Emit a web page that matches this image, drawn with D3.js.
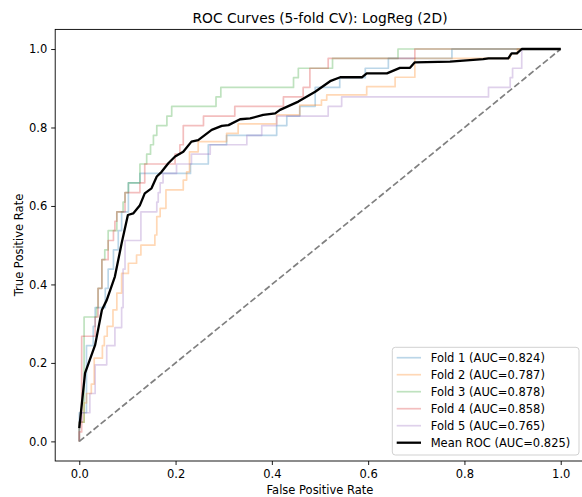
<!DOCTYPE html>
<html><head><meta charset="utf-8">
<script src="https://cdn.jsdelivr.net/npm/d3@7"></script>
<style>body{margin:0;background:#fff}svg{display:block;font-family:"DejaVu Sans",sans-serif}</style>
</head><body><svg id="c" width="582" height="497"></svg>
<script>
const chartTitle = "ROC Curves (5-fold CV): LogReg (2D)";
const xLabel = "False Positive Rate";
const yLabel = "True Positive Rate";
const tickValues = [0, 0.2, 0.4, 0.6, 0.8, 1.0];
const foldNames = ["Fold 1 (AUC=0.824)", "Fold 2 (AUC=0.787)", "Fold 3 (AUC=0.878)", "Fold 4 (AUC=0.858)", "Fold 5 (AUC=0.765)"];
const meanName = "Mean ROC (AUC=0.825)";
const foldColors = ["#1f77b4", "#ff7f0e", "#2ca02c", "#d62728", "#9467bd"];

// [fpr, tpr] points
const fold1 = [[0,0],[0,0.073],[0.015,0.073],[0.015,0.244],[0.029,0.244],[0.029,0.293],[0.033,0.293],[0.033,0.341],[0.054,0.341],[0.054,0.39],[0.06,0.39],[0.06,0.439],[0.071,0.439],[0.071,0.488],[0.081,0.488],[0.081,0.537],[0.088,0.537],[0.088,0.585],[0.102,0.585],[0.102,0.659],[0.126,0.659],[0.126,0.683],[0.231,0.683],[0.231,0.707],[0.268,0.707],[0.268,0.756],[0.306,0.756],[0.306,0.78],[0.41,0.78],[0.41,0.805],[0.431,0.805],[0.431,0.829],[0.458,0.829],[0.458,0.854],[0.49,0.854],[0.49,0.902],[0.541,0.902],[0.541,0.927],[0.594,0.927],[0.594,0.951],[0.642,0.951],[0.642,0.976],[0.774,0.976],[0.774,1],[1,1]];
const fold2 = [[0,0],[0,0.049],[0.01,0.049],[0.01,0.098],[0.015,0.098],[0.015,0.122],[0.025,0.122],[0.025,0.146],[0.031,0.146],[0.031,0.212],[0.048,0.212],[0.048,0.244],[0.052,0.244],[0.052,0.268],[0.058,0.268],[0.058,0.293],[0.07,0.293],[0.07,0.335],[0.078,0.335],[0.078,0.378],[0.088,0.378],[0.088,0.428],[0.102,0.428],[0.102,0.454],[0.119,0.454],[0.119,0.475],[0.128,0.475],[0.128,0.5],[0.157,0.5],[0.157,0.526],[0.161,0.526],[0.161,0.573],[0.168,0.573],[0.168,0.594],[0.18,0.594],[0.18,0.641],[0.216,0.641],[0.216,0.666],[0.223,0.666],[0.223,0.687],[0.229,0.687],[0.229,0.738],[0.247,0.738],[0.247,0.764],[0.306,0.764],[0.306,0.785],[0.33,0.785],[0.33,0.809],[0.41,0.809],[0.41,0.832],[0.458,0.832],[0.458,0.857],[0.503,0.857],[0.503,0.87],[0.514,0.87],[0.514,0.883],[0.597,0.883],[0.597,0.904],[0.656,0.904],[0.656,0.928],[0.697,0.928],[0.697,0.976],[0.895,0.976],[0.895,0.988],[0.91,0.988],[0.91,1],[1,1]];
const fold3 = [[0,0],[0,0.049],[0.01,0.049],[0.01,0.317],[0.036,0.317],[0.036,0.341],[0.039,0.341],[0.039,0.39],[0.047,0.39],[0.047,0.463],[0.053,0.463],[0.053,0.488],[0.06,0.488],[0.06,0.537],[0.078,0.537],[0.078,0.585],[0.091,0.585],[0.091,0.61],[0.095,0.61],[0.095,0.634],[0.102,0.634],[0.102,0.659],[0.126,0.659],[0.126,0.707],[0.14,0.707],[0.14,0.732],[0.148,0.732],[0.148,0.756],[0.154,0.756],[0.154,0.78],[0.161,0.78],[0.161,0.805],[0.182,0.805],[0.182,0.829],[0.192,0.829],[0.192,0.854],[0.284,0.854],[0.284,0.878],[0.294,0.878],[0.294,0.902],[0.445,0.902],[0.445,0.927],[0.455,0.927],[0.455,0.951],[0.526,0.951],[0.526,0.976],[0.662,0.976],[0.662,1],[1,1]];
const fold4 = [[0,0],[0,0.024],[0.005,0.024],[0.005,0.268],[0.033,0.268],[0.033,0.317],[0.039,0.317],[0.039,0.39],[0.047,0.39],[0.047,0.463],[0.06,0.463],[0.06,0.512],[0.071,0.512],[0.071,0.537],[0.074,0.537],[0.074,0.561],[0.078,0.561],[0.078,0.585],[0.095,0.585],[0.095,0.634],[0.126,0.634],[0.126,0.659],[0.136,0.659],[0.136,0.707],[0.199,0.707],[0.199,0.732],[0.209,0.732],[0.209,0.756],[0.216,0.756],[0.216,0.805],[0.258,0.805],[0.258,0.829],[0.323,0.829],[0.323,0.854],[0.424,0.854],[0.424,0.878],[0.465,0.878],[0.465,0.902],[0.479,0.902],[0.479,0.951],[0.517,0.951],[0.517,0.976],[0.697,0.976],[0.697,1],[1,1]];
const fold5 = [[0,0],[0,0.049],[0.005,0.049],[0.005,0.073],[0.022,0.073],[0.022,0.122],[0.033,0.122],[0.033,0.195],[0.057,0.195],[0.057,0.244],[0.074,0.244],[0.074,0.29],[0.088,0.29],[0.088,0.341],[0.091,0.341],[0.091,0.439],[0.095,0.439],[0.095,0.512],[0.128,0.512],[0.128,0.585],[0.161,0.585],[0.161,0.61],[0.164,0.61],[0.164,0.634],[0.168,0.634],[0.168,0.659],[0.174,0.659],[0.174,0.683],[0.202,0.683],[0.202,0.707],[0.233,0.707],[0.233,0.732],[0.272,0.732],[0.272,0.756],[0.348,0.756],[0.348,0.78],[0.379,0.78],[0.379,0.805],[0.41,0.805],[0.41,0.829],[0.517,0.829],[0.517,0.854],[0.545,0.854],[0.545,0.878],[0.85,0.878],[0.85,0.902],[0.895,0.902],[0.895,0.927],[0.9,0.927],[0.9,0.951],[0.919,0.951],[0.919,1],[1,1]];
const meanRoc = [[0,0.034],[0.012,0.174],[0.033,0.246],[0.047,0.335],[0.057,0.36],[0.074,0.42],[0.088,0.505],[0.101,0.577],[0.112,0.581],[0.126,0.602],[0.136,0.632],[0.15,0.645],[0.161,0.675],[0.171,0.687],[0.185,0.709],[0.199,0.726],[0.216,0.738],[0.233,0.764],[0.247,0.768],[0.275,0.794],[0.296,0.804],[0.31,0.806],[0.334,0.821],[0.355,0.823],[0.382,0.832],[0.407,0.836],[0.417,0.845],[0.455,0.866],[0.49,0.891],[0.521,0.918],[0.542,0.928],[0.587,0.928],[0.597,0.938],[0.639,0.938],[0.666,0.952],[0.687,0.952],[0.697,0.966],[0.77,0.968],[0.839,0.974],[0.85,0.976],[0.891,0.976],[0.898,0.989],[0.909,0.989],[0.919,1],[1,1]];
const chanceLine = [[0,0],[1,1]];

const folds = [fold1, fold2, fold3, fold4, fold5];

const svg = d3.select("#c");
const x = d3.scaleLinear().domain([-0.05, 1.05]).range([55.2, 584.8]);
const y = d3.scaleLinear().domain([-0.05, 1.05]).range([461, 29.4]);
const line = d3.line().x(d => x(d[0])).y(d => y(d[1]));

const plot = svg.append("g");
folds.forEach((f, i) => {
  plot.append("path").attr("d", line(f)).attr("fill", "none")
    .attr("stroke", foldColors[i]).attr("stroke-opacity", 0.3).attr("stroke-width", 1.7)
    .attr("stroke-linejoin", "round");
});
plot.append("path").attr("d", line(chanceLine)).attr("fill", "none")
  .attr("stroke", "#808080").attr("stroke-width", 1.7).attr("stroke-dasharray", "6.4,2.8");
plot.append("path").attr("d", line(meanRoc)).attr("fill", "none")
  .attr("stroke", "#000").attr("stroke-width", 2.3).attr("stroke-linejoin", "round");

// frame
svg.append("rect").attr("x", 55.2).attr("y", 29.4).attr("width", 529.6).attr("height", 431.6)
  .attr("fill", "none").attr("stroke", "#000").attr("stroke-width", 0.9);

const fmt = d3.format(".1f");
const xa = svg.append("g").attr("transform", "translate(0,461)")
  .call(d3.axisBottom(x).tickValues(tickValues).tickFormat(fmt).tickSize(4).tickPadding(5));
const ya = svg.append("g").attr("transform", "translate(55.2,0)")
  .call(d3.axisLeft(y).tickValues(tickValues).tickFormat(fmt).tickSize(4).tickPadding(4));
[xa, ya].forEach(a => {
  a.select(".domain").remove();
  a.selectAll("text").attr("font-family", "DejaVu Sans").attr("font-size", "11.5px").attr("fill", "#000");
  a.selectAll("line").attr("stroke", "#000").attr("stroke-width", 0.9);
});

svg.append("text").attr("x", 320).attr("y", 22.5).attr("text-anchor", "middle")
  .attr("font-size", "13.8px").attr("fill", "#000").text(chartTitle);
svg.append("text").attr("x", 320).attr("y", 494).attr("text-anchor", "middle")
  .attr("font-size", "11.5px").attr("fill", "#000").text(xLabel);
svg.append("text").attr("transform", "translate(22.5,245) rotate(-90)").attr("text-anchor", "middle")
  .attr("font-size", "11.5px").attr("fill", "#000").text(yLabel);

// legend
const lg = svg.append("g");
lg.append("rect").attr("x", 392.3).attr("y", 347.3).attr("width", 186.7).attr("height", 107.7)
  .attr("rx", 3).attr("fill", "#fff").attr("fill-opacity", 0.8).attr("stroke", "#cccccc").attr("stroke-width", 0.9);
const entries = foldNames.map((n, i) => ({name: n, color: foldColors[i], op: 0.3, w: 1.7}))
  .concat([{name: meanName, color: "#000", op: 1, w: 2.3}]);
entries.forEach((e, i) => {
  const yy = 357.7 + i * 17;
  lg.append("line").attr("x1", 396.7).attr("x2", 421).attr("y1", yy).attr("y2", yy)
    .attr("stroke", e.color).attr("stroke-opacity", e.op).attr("stroke-width", e.w);
  lg.append("text").attr("x", 430.7).attr("y", yy).attr("dy", "0.36em")
    .attr("font-size", "11.5px").attr("fill", "#000").text(e.name);
});
</script></body></html>
